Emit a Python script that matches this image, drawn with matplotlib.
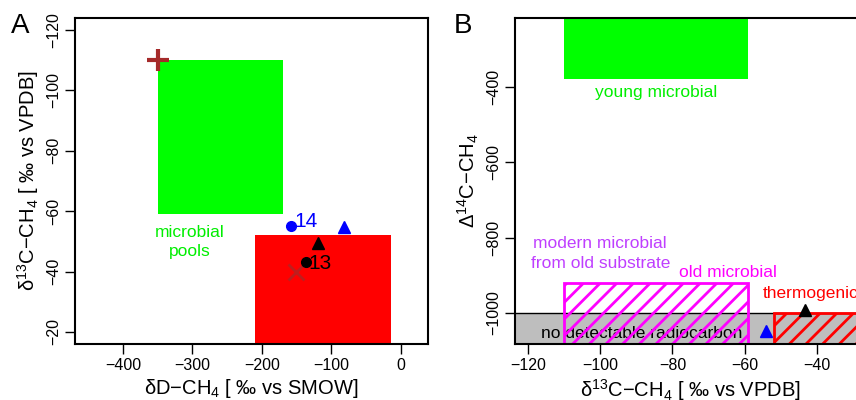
import matplotlib
matplotlib.use("Agg")
import matplotlib.pyplot as plt
from matplotlib.patches import Rectangle

plt.rcParams['font.family'] = ['Liberation Sans', 'DejaVu Sans']
plt.rcParams['mathtext.fontset'] = 'custom'
plt.rcParams['mathtext.rm'] = 'Liberation Sans'
plt.rcParams['mathtext.it'] = 'Liberation Sans'
plt.rcParams['mathtext.default'] = 'regular'
plt.rcParams['hatch.linewidth'] = 2.0

# ---------------- Data ----------------
# Panel A: dD (x) vs d13C (y)
a_microbial_box = [-350, -170, -110, -59]      # x0, x1, y0, y1
a_thermo_box = [-210, -15, -52, 0]
a_plus = [-350, -110]
a_x_mark = [-151, -40]
a_circles_x = [-158, -137]
a_circles_y = [-55, -43.3]
a_circle_colors = ['blue', 'black']
a_circle_labels = ['14', '13']
a_label_x = [-154, -133]
a_label_y = [-56.6, -42.8]
a_tri_x = [-82, -119.5]
a_tri_y = [-54.7, -49.3]
a_tri_colors = ['blue', 'black']
a_xticks = [-400, -300, -200, -100, 0]
a_yticks = [-120, -100, -80, -60, -40, -20]

# Panel B: d13C (x) vs D14C (y)
b_young_box = [-110, -59, -380, 0]
b_oldmic_box = [-110, -59, -1200, -920]
b_nodetect_box = [-140, 0, -1200, -1000]
b_thermo_box = [-52, 0, -1200, -1000]
b_tri_x = [-54, -43.2]
b_tri_y = [-1048.7, -991]
b_tri_colors = ['blue', 'black']
b_xticks = [-120, -100, -80, -60, -40]
b_yticks = [-400, -600, -800, -1000]

fig = plt.figure(figsize=(8.56, 4.0), dpi=100)

def box(ax, b, **kw):
    r = Rectangle((b[0], b[2]), b[1]-b[0], b[3]-b[2], **kw)
    ax.add_patch(r)
    return r

def minus(v):
    return '\u2212' + str(abs(v)) if v < 0 else str(v)

# ---------------- Panel A ----------------
axA = fig.add_axes([75/856, 56/400, 353/856, 326/400])

box(axA, a_microbial_box, facecolor='#00FF00', edgecolor='none', zorder=1)
box(axA, a_thermo_box, facecolor='#FF0000', edgecolor='none', zorder=1)
axA.plot([a_plus[0]], [a_plus[1]], marker='+', color='#A52A2A', ms=16, mew=3, zorder=3)
axA.plot([a_x_mark[0]], [a_x_mark[1]], marker='x', color='#A52A2A', ms=11, mew=2, alpha=0.7, zorder=3)
for x, y, c in zip(a_circles_x, a_circles_y, a_circle_colors):
    axA.plot([x], [y], marker='o', color=c, ms=7, zorder=4)
for x, y, c, lab in zip(a_label_x, a_label_y, a_circle_colors, a_circle_labels):
    axA.text(x, y, lab, color=c, fontsize=15, ha='left', va='center', zorder=4)
for x, y, c in zip(a_tri_x, a_tri_y, a_tri_colors):
    axA.plot([x], [y], marker='^', color=c, ms=9, zorder=4)
axA.text(-304, -49.8, 'microbial\npools', color='#00EE00', fontsize=12.5,
         ha='center', va='center', linespacing=1.35)

axA.set_xticks(a_xticks)
axA.set_xticklabels([minus(v) for v in a_xticks])
axA.set_yticks(a_yticks)
axA.set_yticklabels([minus(v) for v in a_yticks], rotation=90, va='center')
axA.set_xlim(-468.8, 38.8)
axA.set_ylim(-16, -124)
axA.set_xlabel('δD\u2212CH$_4$ [ ‰ vs SMOW]', fontsize=14.5, labelpad=3)
axA.set_ylabel('δ$^{13}$C\u2212CH$_4$ [ ‰ vs VPDB]', fontsize=14.5, labelpad=4)
fig.text(20/856, 1 - 26/400, 'A', fontsize=20, ha='center', va='center')

# ---------------- Panel B ----------------
axB = fig.add_axes([515/856, 56/400, 351/856, 326/400])

box(axB, b_young_box, facecolor='#00FF00', edgecolor='none', zorder=1)
box(axB, b_nodetect_box, facecolor='#BEBEBE', edgecolor='black', lw=1, zorder=1)
axB.text(-88.5, -1053, 'no detectable radiocarbon', color='black', fontsize=12.5,
         ha='center', va='center', zorder=2)
box(axB, b_oldmic_box, facecolor='none', edgecolor='#FF00FF', hatch='//', lw=2, zorder=3)
box(axB, b_thermo_box, facecolor='none', edgecolor='#FF0000', hatch='//', lw=2, zorder=3)
for x, y, c in zip(b_tri_x, b_tri_y, b_tri_colors):
    axB.plot([x], [y], marker='^', color=c, ms=9, zorder=4)

axB.text(-84.5, -416, 'young microbial', color='#00EE00', fontsize=12.5, ha='center', va='center')
axB.text(-100, -842, 'modern microbial\nfrom old substrate', color='#BF3EFF', fontsize=12.5,
         ha='center', va='center', linespacing=1.35)
axB.text(-64.7, -892, 'old microbial', color='#FF00FF', fontsize=12.5, ha='center', va='center')
axB.text(-55, -947, 'thermogenic', color='#FF0000', fontsize=12.5, ha='left', va='center')

axB.set_xticks(b_xticks)
axB.set_xticklabels([minus(v) for v in b_xticks])
axB.set_yticks(b_yticks)
axB.set_yticklabels([minus(v) for v in b_yticks], rotation=90, va='center')
axB.set_xlim(-123.6, -26.4)
axB.set_ylim(-1082, -218)
axB.set_xlabel('δ$^{13}$C\u2212CH$_4$ [ ‰ vs VPDB]', fontsize=14.5, labelpad=3)
axB.set_ylabel('Δ$^{14}$C\u2212CH$_4$', fontsize=14.5, labelpad=4)
fig.text(463/856, 1 - 26/400, 'B', fontsize=20, ha='center', va='center')

for ax in (axA, axB):
    for s in ax.spines.values():
        s.set_linewidth(1.5)
        s.set_zorder(5)
    ax.tick_params(direction='out', length=7, width=1, labelsize=11.5, pad=3)

fig.savefig('out.png', dpi=100)
